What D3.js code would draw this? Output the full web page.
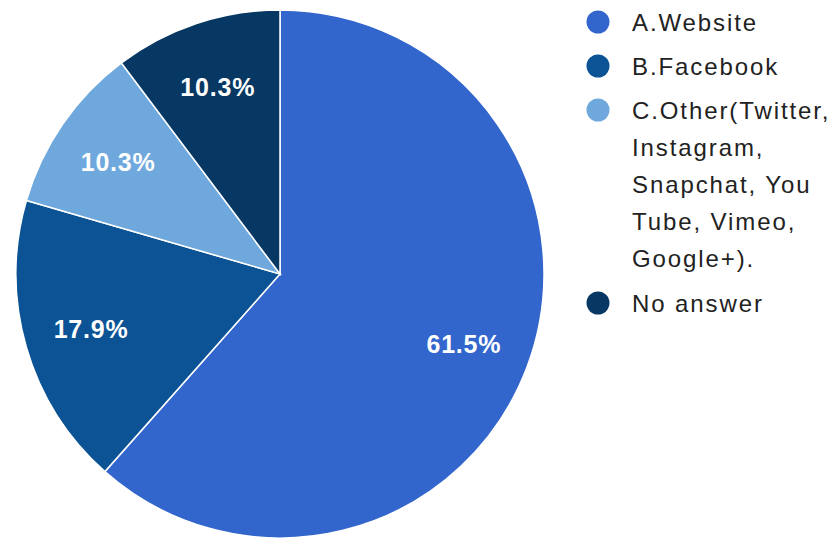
<!DOCTYPE html>
<html>
<head>
<meta charset="utf-8">
<script src="https://cdn.jsdelivr.net/npm/d3@7"></script>
<style>
  html, body { margin: 0; padding: 0; background: #fff; }
  svg { display: block; }
</style>
</head>
<body>
<svg id="chart" width="830" height="540"></svg>
<script>
// Survey responses: where people look for information
const categories = ["A.Website", "B.Facebook", "C.Other(Twitter, Instagram, Snapchat, You Tube, Vimeo, Google+).", "No answer"];
const counts = [24, 7, 4, 4];
const colors = ["#3366cc", "#0b5394", "#6fa8dc", "#073763"];
// Legend text, already broken into the lines it is drawn on
const legendLines = [
  ["A.Website"],
  ["B.Facebook"],
  ["C.Other(Twitter,", "Instagram,", "Snapchat, You", "Tube, Vimeo,", "Google+)."],
  ["No answer"]
];

const svg = d3.select("#chart");
const cx = 280, cy = 274, radius = 264;

const total = d3.sum(counts);
const data = categories.map((c, i) => ({ name: c, value: counts[i], color: colors[i] }));

const pie = d3.pie().value(d => d.value).sort(null);
const arcs = pie(data);

const arc = d3.arc().innerRadius(0).outerRadius(radius);
const labelArc = d3.arc().innerRadius(radius * 0.745).outerRadius(radius * 0.745);

const g = svg.append("g").attr("transform", `translate(${cx},${cy})`);

g.selectAll("path.slice")
  .data(arcs)
  .join("path")
  .attr("class", "slice")
  .attr("d", arc)
  .attr("fill", d => d.data.color)
  .attr("stroke", "#ffffff")
  .attr("stroke-width", 1.5);

const pct = d3.format(".1%");
g.selectAll("text.pct")
  .data(arcs)
  .join("text")
  .attr("class", "pct")
  .attr("transform", d => `translate(${labelArc.centroid(d)})`)
  .attr("text-anchor", "middle")
  .attr("dy", "0.36em")
  .attr("font-family", "Liberation Sans, Arial, sans-serif")
  .attr("font-weight", "bold")
  .attr("font-size", 25)
  .attr("letter-spacing", 0.8)
  .attr("fill", "#ffffff")
  .text(d => pct(d.data.value / total));

// Legend
const legend = svg.append("g").attr("transform", "translate(598,0)");
const itemTops = [22, 66, 110, 303];
const lineStep = 37;

data.forEach((d, i) => {
  const item = legend.append("g").attr("transform", `translate(0,${itemTops[i]})`);
  item.append("circle")
    .attr("cx", 0).attr("cy", 0).attr("r", 11.5)
    .attr("fill", d.color);
  const t = item.append("text")
    .attr("x", 34)
    .attr("y", 0)
    .attr("font-family", "Liberation Sans, Arial, sans-serif")
    .attr("font-size", 24)
    .attr("letter-spacing", 1.9)
    .attr("fill", "#222222");
  legendLines[i].forEach((line, j) => {
    t.append("tspan")
      .attr("x", 34)
      .attr("y", j * lineStep)
      .attr("dy", "0.36em")
      .text(line);
  });
});
</script>
</body>
</html>
